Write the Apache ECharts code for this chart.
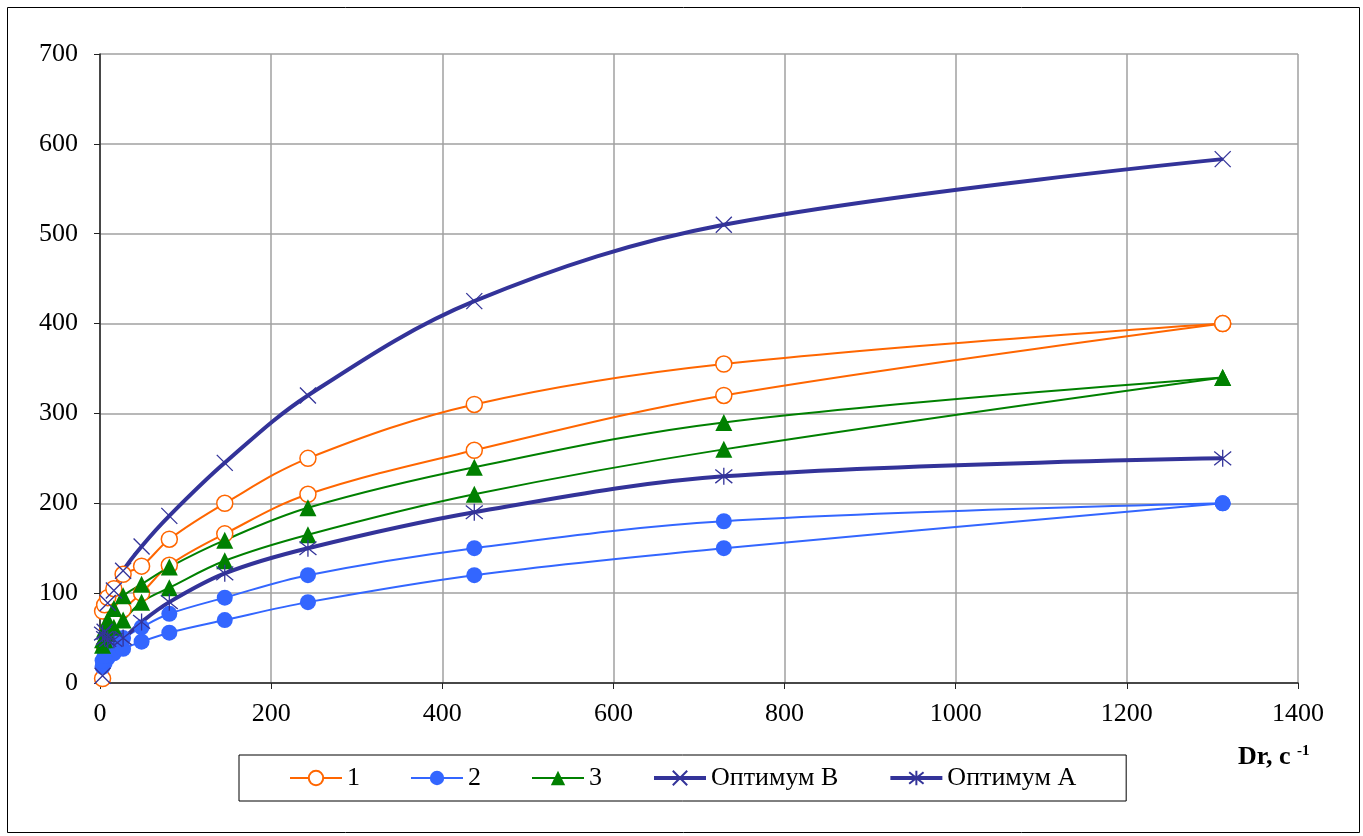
<!DOCTYPE html>
<html>
<head>
<meta charset="utf-8">
<script src="https://cdn.jsdelivr.net/npm/echarts@6/dist/echarts.min.js"></script>
<style>html,body{margin:0;padding:0;background:#fff;}#c{width:1363px;height:836px;}</style>
</head>
<body>
<div id="c"></div>
<script>
// Shear rate, s^-1
const shearRate = [3, 5.4, 9, 16.2, 27, 48.6, 81, 145.8, 243, 437.4, 729, 1312];
// Series 1 (up / down branches of hysteresis loop)
const s1Up   = [5, 40, 58, 70, 82, 100, 131, 166, 210, 259, 320, 400];
const s1Down = [80, 87, 95, 105, 121, 130, 160, 200, 250, 310, 355, 400];
// Series 2
const s2Up   = [18, 22, 28, 33, 38, 46, 56, 70, 90, 120, 150, 200];
const s2Down = [25, 30, 38, 45, 50, 62, 77, 95, 120, 150, 180, 200];
// Series 3
const s3Up   = [42, 48, 55, 62, 70, 90, 106, 136, 165, 210, 260, 340];
const s3Down = [48, 60, 70, 83, 97, 110, 129, 159, 195, 240, 290, 340];
// Optimum curves
const optB = [8, 57, 89, 103, 125, 152, 186, 245, 320, 425, 510, 583];
const optA = [55, 50, 48, 48, 50, 68, 90, 122, 150, 190, 230, 250];

const legendNames = ['1', '2', '3', 'Оптимум B', 'Оптимум A'];
const xTicks = {min: 0, max: 1400, interval: 200};
const yTicks = {min: 0, max: 700, interval: 100};

const pair = arr => shearRate.map((x, i) => [x, arr[i]]);
const FONT = '"Liberation Serif", "Times New Roman", serif';
const X_PATH = 'path://M0,0L10,10M10,0L0,10';
const STAR_PATH = 'path://M5,0L5,10M0,1L10,9M10,1L0,9';

function mk(name, data, opt) {
  return Object.assign({
    name: name, type: 'line', data: pair(data), smooth: 0.35,
    animation: false, z: 2
  }, opt);
}
const orange = '#FF6600', blue = '#3366FF', green = '#008000', navy = '#333399';
const s1opt = {symbol: 'circle', symbolSize: 16, lineStyle: {color: orange, width: 2},
  itemStyle: {color: '#fff', borderColor: orange, borderWidth: 1.5}};
const s2opt = {symbol: 'circle', symbolSize: 16, lineStyle: {color: blue, width: 2},
  itemStyle: {color: blue, borderColor: blue, borderWidth: 0}};
const s3opt = {symbol: 'triangle', symbolSize: 17, lineStyle: {color: green, width: 2},
  itemStyle: {color: green, borderColor: green, borderWidth: 0}};
const bOpt = {symbol: X_PATH, symbolSize: 16, lineStyle: {color: navy, width: 4},
  itemStyle: {color: navy, borderColor: navy, borderWidth: 1.3}};
const aOpt = {symbol: STAR_PATH, symbolSize: 17, lineStyle: {color: navy, width: 4},
  itemStyle: {color: navy, borderColor: navy, borderWidth: 1.3}};

const chart = echarts.init(document.getElementById('c'), null, {renderer: 'canvas'});
chart.setOption({
  backgroundColor: '#fff',
  animation: false,
  grid: {left: 100, right: 65, top: 54, bottom: 153, containLabel: false},
  xAxis: {
    type: 'value', min: xTicks.min, max: xTicks.max, interval: xTicks.interval,
    axisLine: {show: true, onZero: false, lineStyle: {color: '#222', width: 1.5}},
    axisTick: {show: true, length: 6, lineStyle: {color: '#222'}},
    axisLabel: {fontFamily: FONT, fontSize: 26, color: '#000', margin: 18,
      formatter: v => String(v)},
    splitLine: {show: true, lineStyle: {color: '#a0a0a0', width: 1.5}}
  },
  yAxis: {
    type: 'value', min: yTicks.min, max: yTicks.max, interval: yTicks.interval,
    axisLine: {show: true, onZero: false, lineStyle: {color: '#222', width: 1.5}},
    axisTick: {show: true, length: 6, lineStyle: {color: '#222'}},
    axisLabel: {fontFamily: FONT, fontSize: 26, color: '#000', margin: 22,
      formatter: v => String(v)},
    splitLine: {show: true, lineStyle: {color: '#a0a0a0', width: 1.5}}
  },
  legend: {
    data: [
      {name: '1'}, {name: '2'}, {name: '3'},
      {name: 'Оптимум B', lineStyle: {width: 4}},
      {name: 'Оптимум A', lineStyle: {width: 4}}
    ],
    left: 239, top: 755,
    orient: 'horizontal',
    padding: [10, 50, 10, 50],
    itemGap: 50, itemWidth: 52, itemHeight: 18,
    borderColor: '#000', borderWidth: 1,
    textStyle: {fontFamily: FONT, fontSize: 26, color: '#000'},
    selectedMode: false
  },
  graphic: [
    {type: 'rect', left: 5, top: 5, shape: {width: 1352, height: 825},
     style: {fill: 'none', stroke: '#000', lineWidth: 1}, z: -1, silent: true},
    {type: 'text', left: 1238, top: 744,
     style: {text: '{a|Dr, c }{s|-1}', rich: {
        a: {fontFamily: FONT, fontSize: 26, fontWeight: 'bold', fill: '#000', verticalAlign: 'bottom'},
        s: {fontFamily: FONT, fontSize: 15, fontWeight: 'bold', fill: '#000', padding: [0, 0, 10, 0], verticalAlign: 'top'}
     }}}
  ],
  series: [
    mk('1', s1Up, s1opt), mk('1', s1Down, s1opt),
    mk('2', s2Up, s2opt), mk('2', s2Down, s2opt),
    mk('3', s3Up, s3opt), mk('3', s3Down, s3opt),
    mk('Оптимум B', optB, bOpt),
    mk('Оптимум A', optA, aOpt)
  ]
});
</script>
</body>
</html>
